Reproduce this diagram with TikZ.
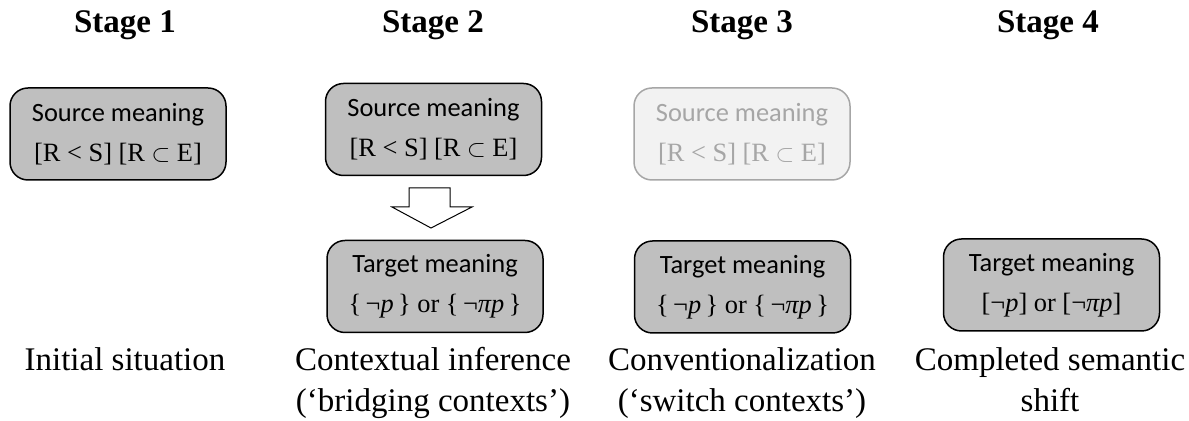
\documentclass[tikz,border=0pt]{standalone}
\usepackage{fontspec}
\setmainfont{Liberation Serif}
\newfontfamily\calibri{Carlito}

\tikzset{every picture/.style={line width=0.75pt}}
\tikzset{
  meaningbox/.style={draw, rounded corners=9pt, fill={rgb, 255:red, 191; green, 191; blue, 191}, minimum width=108pt, minimum height=46pt, align=center, inner sep=0pt, font=\fontsize{13.2}{20}\selectfont},
  fadedbox/.style={meaningbox, draw={rgb, 255:red, 166; green, 166; blue, 166}, fill={rgb, 255:red, 242; green, 242; blue, 242}, text={rgb, 255:red, 166; green, 166; blue, 166}},
  stagetitle/.style={anchor=base, inner sep=0.75pt, font=\fontsize{16.5}{20}\selectfont\bfseries},
  stagelabel/.style={anchor=base, inner sep=0.75pt, align=center, font=\fontsize{16.5}{20.5}\selectfont}
}
\newcommand{\srcmeaning}{{\calibri Source meaning}\\{[R < S] [R $\subset$ E]}}

\begin{document}
\begin{tikzpicture}[x=0.5pt,y=0.5pt,yscale=-1,xscale=1]
\useasboundingbox (0,0) rectangle (1189,421);
% Stage titles
\node (title1) at (125,33) [stagetitle] {Stage 1};
\node (title2) at (433,33) [stagetitle] {Stage 2};
\node (title3) at (742,33) [stagetitle] {Stage 3};
\node (title4) at (1048,33) [stagetitle] {Stage 4};
% Source meaning boxes
\node (src1) at (118,134) [meaningbox] {\srcmeaning};
\node (src2) at (433.5,129.5) [meaningbox] {\srcmeaning};
\node (src3) at (742,134) [fadedbox] {\srcmeaning};
% Target meaning boxes
\node (tgt2) at (435,286.5) [meaningbox] {{\calibri Target meaning}\\{\{\,¬\textit{p}\,\} or \{\,¬\textit{πp}\,\}}};
\node (tgt3) at (742.5,287) [meaningbox] {{\calibri Target meaning}\\{\{\,¬\textit{p}\,\} or \{\,¬\textit{πp}\,\}}};
\node (tgt4) at (1051.5,285) [meaningbox] {{\calibri Target meaning}\\{[¬\textit{p}] or [¬\textit{πp}]}};
% Block arrow
\draw [line width=0.5pt, fill=white] (409,188) -- (450,188) -- (450,207) -- (472,207) -- (431,228) -- (392,207) -- (409,207) -- cycle;
% Stage labels (base = last line)
\node (lab1) at (125,371) [stagelabel] {Initial situation};
\node (lab2) at (433,412) [stagelabel] {Contextual inference\\(‘bridging contexts’)};
\node (lab3) at (742,412) [stagelabel] {Conventionalization\\(‘switch contexts’)};
\node (lab4) at (1050,412) [stagelabel] {Completed semantic\\shift};
\end{tikzpicture}
\end{document}
